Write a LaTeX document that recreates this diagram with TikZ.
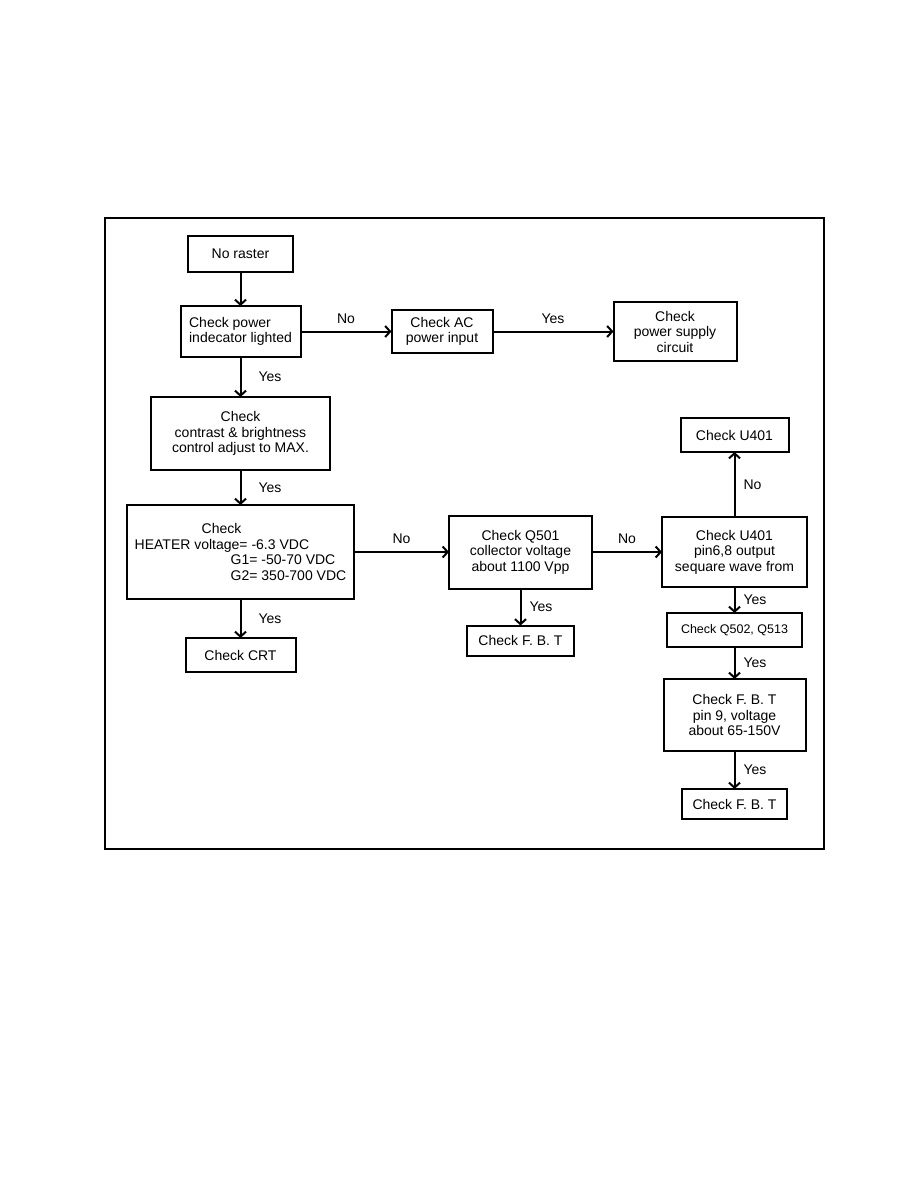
\documentclass[tikz,border=0pt]{standalone}
\usepackage{fontspec}
\setmainfont{Liberation Sans}
\usetikzlibrary{arrows.meta, positioning}

\begin{document}
\begin{tikzpicture}[
      x=1pt, y=-1pt,
      font=\fontsize{14}{15.5}\selectfont,
      box/.style={rectangle, draw, line width=2pt, align=center, inner sep=4pt, outer sep=0pt},
      arrow/.style={-{Straight Barb[length=5pt,width=11pt]}, line width=2pt},
      lbl/.style={inner sep=2pt}
    ]

    \useasboundingbox (0,0) rectangle (918,1188);
    \draw[line width=1.2pt] (105,218) rectangle (824,849);

    % Column 1: main checks
    \node[box, minimum width=105pt, minimum height=36pt] (raster) at (240.5,254) {No raster};
    \node[box, align=left, minimum width=120pt, minimum height=51pt, below=34pt of raster] (power) {Check power\\indecator lighted};
    \node[box, minimum width=179pt, minimum height=73pt, below=40pt of power] (contrast) {Check\\contrast \& brightness\\control adjust to MAX.};
    \node[box, align=left, minimum width=227pt, minimum height=94pt, below=35pt of contrast] (heater) {\hspace*{67pt}Check\\
    HEATER voltage= -6.3 VDC\\
    \hspace*{96pt}G1= -50-70 VDC\\
    \hspace*{96pt}G2= 350-700 VDC};
    \node[box, minimum width=110pt, minimum height=34pt, below=39pt of heater] (crt) {Check CRT};

    % Row 1: power branch
    \node[box, minimum width=101pt, minimum height=43pt, right=91pt of power] (acin) {Check AC\\power input};
    \node[box, minimum width=123pt, minimum height=59pt, right=121pt of acin] (psu) {Check\\power supply\\circuit};

    % Column 2: Q501
    \node[box, minimum width=143pt, minimum height=73pt, right=95pt of heater] (q501) {Check Q501\\collector voltage\\about 1100 Vpp};
    \node[box, minimum width=107pt, minimum height=30pt, below=37pt of q501] (fbtA) {Check F. B. T};

    % Column 3: U401
    \node[box, minimum width=145pt, minimum height=70pt, right=70pt of q501] (u401) {Check U401\\pin6,8 output\\sequare wave from};
    \node[box, minimum width=108pt, minimum height=34pt, above=65pt of u401] (u401top) {Check U401};
    \node[box, font=\fontsize{12.5}{14}\selectfont, minimum width=135pt, minimum height=34pt, below=26pt of u401] (q502) {Check Q502, Q513};
    \node[box, minimum width=142pt, minimum height=72pt, below=32pt of q502] (fbtpin) {Check F. B. T\\pin 9, voltage\\about 65-150V};
    \node[box, minimum width=105pt, minimum height=30pt, below=38pt of fbtpin] (fbtB) {Check F. B. T};

    % Main flow
    \draw[arrow] (raster.south) -- (power.north);
    \draw[arrow] (power.south) -- node[lbl, midway, right=15pt] {Yes} (contrast.north);
    \draw[arrow] (contrast.south) -- node[lbl, midway, right=15pt] {Yes} (heater.north);
    \draw[arrow] (heater.south) -- node[lbl, midway, right=15pt] {Yes} (crt.north);

    % Side branches
    \draw[arrow] (power.east) -- node[lbl, midway, above=5pt] {No} (acin.west);
    \draw[arrow] (acin.east) -- node[lbl, midway, above=5pt] {Yes} (psu.west);
    \draw[arrow] (heater.east) -- node[lbl, midway, above=5pt] {No} (q501.west);
    \draw[arrow] (q501.south) -- node[lbl, midway, right=6pt] {Yes} (fbtA.north);
    \draw[arrow] (q501.east) -- node[lbl, midway, above=5pt] {No} (u401.west);
    \draw[arrow] (u401.north) -- node[lbl, midway, right=6pt] {No} (u401top.south);
    \draw[arrow] (u401.south) -- node[lbl, midway, right=6pt] {Yes} (q502.north);
    \draw[arrow] (q502.south) -- node[lbl, midway, right=6pt] {Yes} (fbtpin.north);
    \draw[arrow] (fbtpin.south) -- node[lbl, midway, right=6pt] {Yes} (fbtB.north);

    \end{tikzpicture}
\end{document}
